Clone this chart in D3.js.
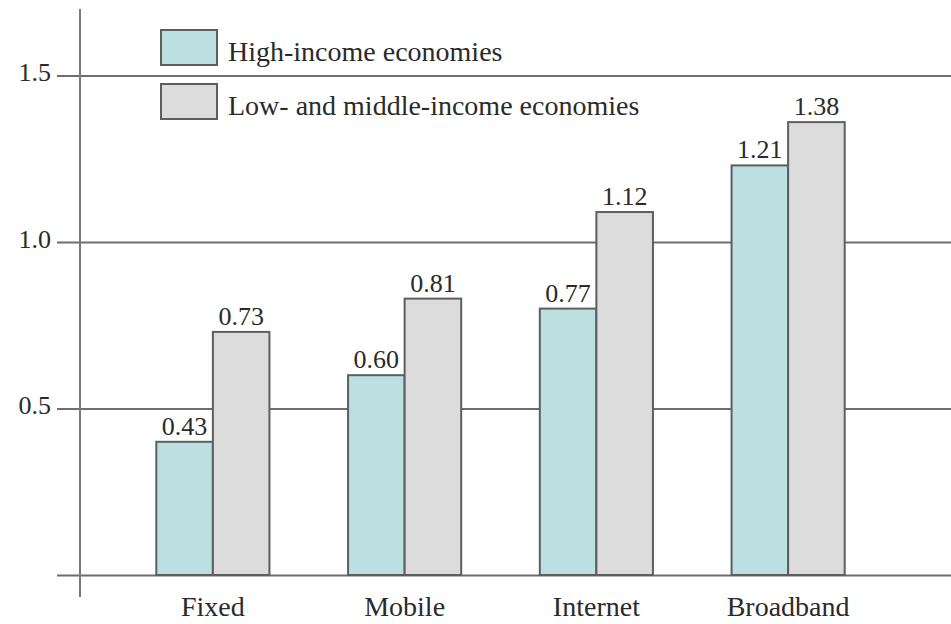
<!DOCTYPE html>
<html>
<head>
<meta charset="utf-8">
<script src="https://cdn.jsdelivr.net/npm/d3@7"></script>
<style>
  body { margin: 0; background: #fff; }
  svg { display: block; }
</style>
</head>
<body>
<div id="chart"></div>
<script>
var width = 951;
var height = 624;
var serif = "'Liberation Serif', 'DejaVu Serif', 'Times New Roman', Times, serif";

// data
var categories = ["Fixed", "Mobile", "Internet", "Broadband"];
var series = ["High-income economies", "Low- and middle-income economies"];
// bar heights as drawn
var highValues = [0.40, 0.60, 0.80, 1.23];
var lowValues = [0.73, 0.83, 1.09, 1.36];
// numbers printed over the bars
var highLabels = ["0.43", "0.60", "0.77", "1.21"];
var lowLabels = ["0.73", "0.81", "1.12", "1.38"];
var yTicks = [0, 0.5, 1.0, 1.5];

var colors = ["#bcdfe1", "#dcdcdc"];

var svg = d3.select("#chart")
    .append("svg")
    .attr("width", width)
    .attr("height", height)
    .attr("font-family", serif);

var y = d3.scaleLinear()
    .domain([0, 1.5])
    .range([575, 75.5]);

var x0 = d3.scaleBand()
    .domain(categories)
    .range([117, 884])
    .paddingInner(0.41)
    .paddingOuter(0.205);

var x1 = d3.scaleBand()
    .domain(series)
    .range([0, x0.bandwidth()]);

// gridlines + tick labels
var yAxis = svg.append("g")
    .attr("transform", "translate(" + width + ",0)")
    .call(d3.axisLeft(y)
        .tickValues(yTicks)
        .tickSize(width - 57)
        .tickPadding(6)
        .tickFormat(function(d) { return d === 0 ? "" : d3.format(".1f")(d); }));
yAxis.attr("font-family", serif);
yAxis.select(".domain").remove();
yAxis.selectAll(".tick line")
    .attr("stroke", "#6e6e6e")
    .attr("stroke-width", 2);
yAxis.selectAll(".tick text")
    .attr("dy", "0.2em")
    .style("font-family", serif)
    .style("font-size", "26px")
    .attr("fill", "#2a2a2a");

// vertical axis line
svg.append("line")
    .attr("x1", 80).attr("x2", 80)
    .attr("y1", y(1.7))
    .attr("y2", y(0) + 22)
    .attr("stroke", "#7a7a7a")
    .attr("stroke-width", 2);

var rows = categories.map(function(c, i) {
  return [
    { cat: c, s: series[0], v: highValues[i], label: highLabels[i], color: colors[0] },
    { cat: c, s: series[1], v: lowValues[i], label: lowLabels[i], color: colors[1] }
  ];
});

var groups = svg.append("g")
    .selectAll("g")
    .data(rows)
    .enter()
    .append("g")
      .attr("transform", function(d) { return "translate(" + x0(d[0].cat) + ",0)"; });

groups.selectAll("rect")
    .data(function(d) { return d; })
    .enter()
    .append("rect")
      .attr("x", function(d) { return x1(d.s); })
      .attr("y", function(d) { return y(d.v); })
      .attr("width", x1.bandwidth())
      .attr("height", function(d) { return y(0) - y(d.v); })
      .attr("fill", function(d) { return d.color; })
      .attr("stroke", "#5e5e5e")
      .attr("stroke-width", 2);

groups.selectAll("text")
    .data(function(d) { return d; })
    .enter()
    .append("text")
      .attr("x", function(d) { return x1(d.s) + x1.bandwidth() / 2; })
      .attr("y", function(d) { return y(d.v) - 7; })
      .attr("text-anchor", "middle")
      .attr("fill", "#2a2a2a")
      .style("font-family", serif)
      .style("font-size", "26px")
      .text(function(d) { return d.label; });

// category labels
svg.append("g")
    .selectAll("text")
    .data(categories)
    .enter()
    .append("text")
      .attr("x", function(d) { return x0(d) + x0.bandwidth() / 2; })
      .attr("y", 616)
      .attr("text-anchor", "middle")
      .attr("fill", "#2a2a2a")
      .style("font-family", serif)
      .style("font-size", "28px")
      .text(function(d) { return d; });

// legend
var legend = svg.append("g")
    .selectAll("g")
    .data(series)
    .enter()
    .append("g")
      .attr("transform", function(d, i) { return "translate(161," + (30 + i * 54) + ")"; });

legend.append("rect")
    .attr("width", 56)
    .attr("height", 35)
    .attr("fill", function(d, i) { return colors[i]; })
    .attr("stroke", "#5e5e5e")
    .attr("stroke-width", 2);

legend.append("text")
    .attr("x", 67)
    .attr("y", 31)
    .attr("fill", "#2a2a2a")
    .style("font-family", serif)
    .style("font-size", "28px")
    .text(function(d) { return d; });
</script>
</body>
</html>
